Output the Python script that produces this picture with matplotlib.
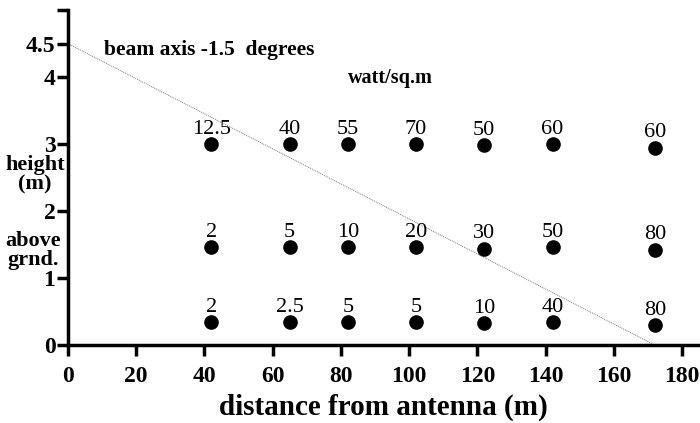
import matplotlib.pyplot as plt
import numpy as np

# measurement positions (m) and power densities (watt/sq.m)
dist = [42, 65, 82, 102, 122, 142, 172]
h_top = [3.0, 3.0, 3.0, 3.0, 2.98, 3.0, 2.95]
h_mid = [1.46, 1.46, 1.46, 1.46, 1.44, 1.46, 1.42]
h_low = [0.34, 0.34, 0.34, 0.34, 0.33, 0.34, 0.3]
w_top = ['12.5', '40', '55', '70', '50', '60', '60']
w_mid = ['2', '5', '10', '20', '30', '50', '80']
w_low = ['2', '2.5', '5', '5', '10', '40', '80']

beam_x = [0, 172]
beam_y = [4.5, 0]

xticks = [0, 20, 40, 60, 80, 100, 120, 140, 160, 180]
yticks = [0, 1, 2, 3, 4, 4.5, 5]
ylabels = ['0', '1', '2', '3', '4', '4.5', '']

plt.rcParams['font.family'] = ['Liberation Serif', 'DejaVu Serif']

fig = plt.figure(figsize=(7, 4.23), dpi=100)
ax = fig.add_axes([0.097, 0.184, 0.902, 0.792])

ax.plot(beam_x, beam_y, color='#777777', lw=0.7, ls=(0, (1, 1)), zorder=1)

for hs, ws in [(h_top, w_top), (h_mid, w_mid), (h_low, w_low)]:
    ax.plot(dist, hs, 'o', color='black', ms=9.5, zorder=3)
    for x, y, t in zip(dist, hs, ws):
        ax.annotate(t, (x, y), xytext=(0, 4), textcoords='offset points',
                    ha='center', va='bottom', fontsize=16)

ax.set_xlim(0, 185)
ax.set_ylim(0, 5)
ax.set_xticks(xticks)
ax.set_yticks(yticks)
ax.set_yticklabels(ylabels)
for lab in ax.get_xticklabels() + ax.get_yticklabels():
    lab.set_fontweight('bold')
    lab.set_fontsize(17)

ax.spines['top'].set_visible(False)
ax.spines['right'].set_visible(False)
ax.spines['left'].set_linewidth(2.5)
ax.spines['bottom'].set_linewidth(2.5)
ax.tick_params(axis='x', length=8, width=2.5, pad=7)
ax.tick_params(axis='y', length=8, width=2.5, pad=1)

ax.text(10.5, 4.4, 'beam axis -1.5  degrees', fontsize=15.5, fontweight='bold',
        va='center')
ax.text(82, 3.98, 'watt/sq.m', fontsize=14.5, fontweight='bold', va='center')

fig.text(0.05, 0.586, 'height\n(m)', fontsize=16, fontweight='bold',
         ha='center', va='center', linespacing=0.95)
fig.text(0.047, 0.407, 'above\ngrnd.', fontsize=16, fontweight='bold',
         ha='center', va='center', linespacing=0.95)

ax.set_xlabel('distance from antenna (m)', fontsize=21, fontweight='bold',
              labelpad=5)

fig.savefig('out.png', dpi=100)
